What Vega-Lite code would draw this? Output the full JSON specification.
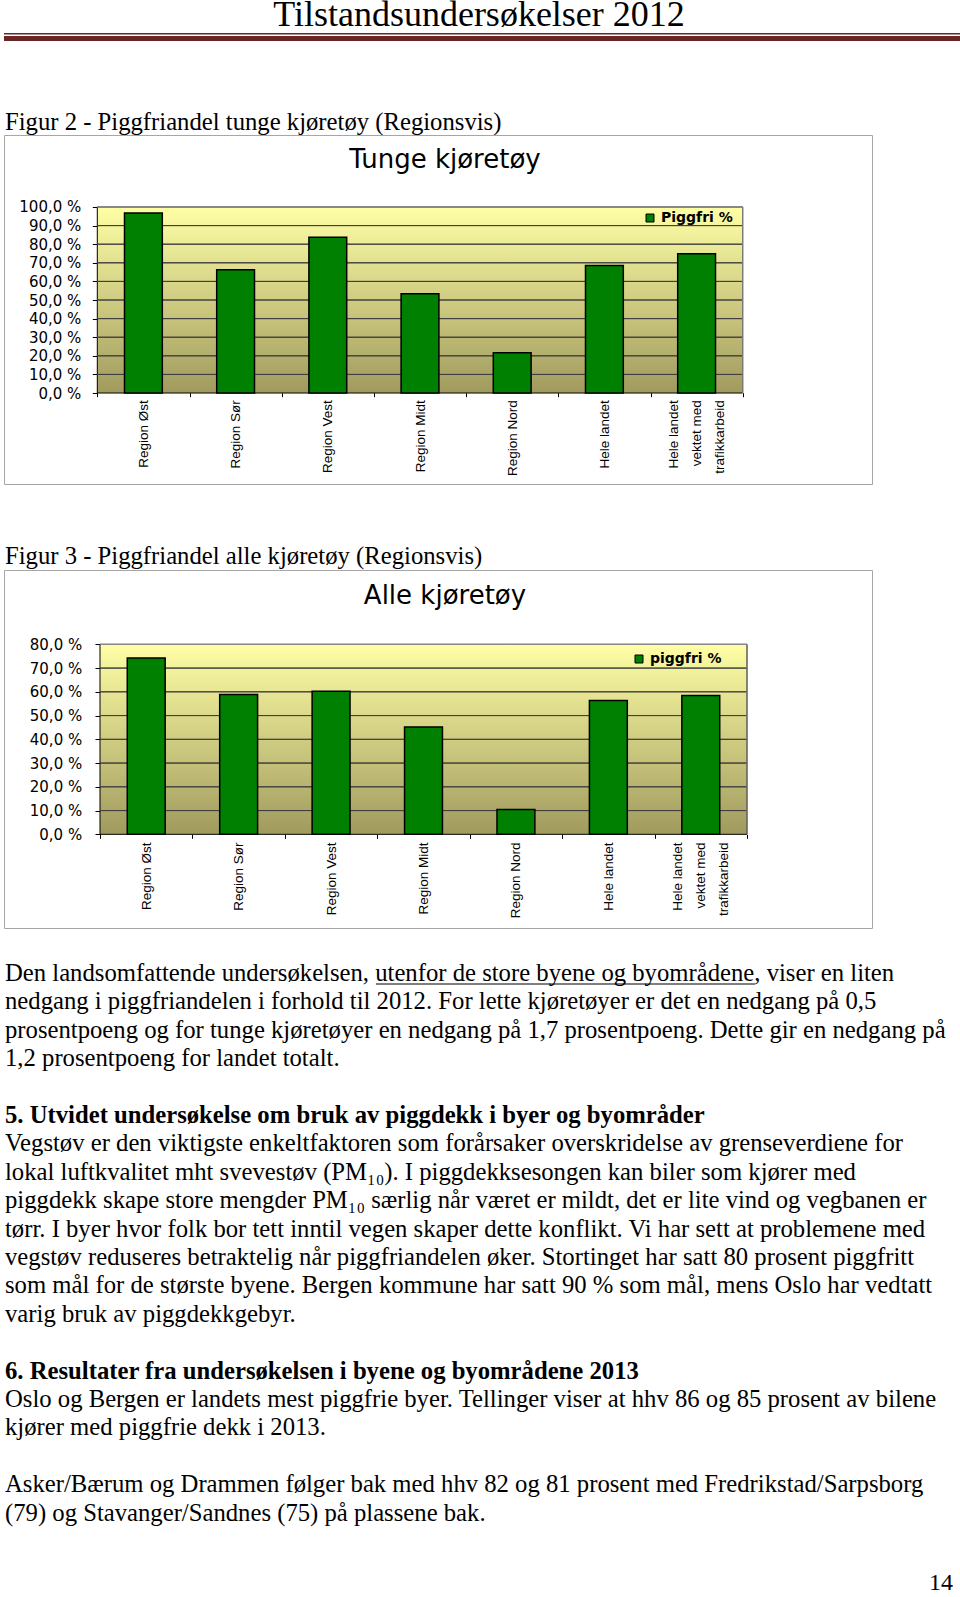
{
  "$schema": "https://vega.github.io/schema/vega-lite/v6.json",
  "background": "white",
  "padding": {"left": -4, "top": -3, "right": 0, "bottom": 0},
  "spacing": 0,
  "bounds": "flush",
  "config": {"view": {"stroke": null}, "font": "Liberation Sans"},
  "resolve": {"scale": {"x": "independent", "y": "independent", "color": "independent"}},
  "datasets": {
    "tunge": [
      {"region": "Region Øst", "piggfri": 96.8},
      {"region": "Region Sør", "piggfri": 66.3},
      {"region": "Region Vest", "piggfri": 83.7},
      {"region": "Region Midt", "piggfri": 53.4},
      {"region": "Region Nord", "piggfri": 21.7},
      {"region": "Hele landet", "piggfri": 68.6},
      {"region": "Hele landet vektet med trafikkarbeid", "piggfri": 74.9}
    ],
    "alle": [
      {"region": "Region Øst", "piggfri": 74.2},
      {"region": "Region Sør", "piggfri": 58.9},
      {"region": "Region Vest", "piggfri": 60.2},
      {"region": "Region Midt", "piggfri": 45.2},
      {"region": "Region Nord", "piggfri": 10.5},
      {"region": "Hele landet", "piggfri": 56.3},
      {"region": "Hele landet vektet med trafikkarbeid", "piggfri": 58.5}
    ],
    "body": [
      {"line": 0, "kind": "p", "text": "Den landsomfattende undersøkelsen, utenfor de store byene og byområdene, viser en liten"},
      {"line": 1, "kind": "p", "text": "nedgang i piggfriandelen i forhold til 2012. For lette kjøretøyer er det en nedgang på 0,5"},
      {"line": 2, "kind": "p", "text": "prosentpoeng og for tunge kjøretøyer en nedgang på 1,7 prosentpoeng. Dette gir en nedgang på"},
      {"line": 3, "kind": "p", "text": "1,2 prosentpoeng for landet totalt."},
      {"line": 5, "kind": "h", "text": "5. Utvidet undersøkelse om bruk av piggdekk i byer og byområder"},
      {"line": 6, "kind": "p", "text": "Vegstøv er den viktigste enkeltfaktoren som forårsaker overskridelse av grenseverdiene for"},
      {"line": 7, "kind": "p", "text": "lokal luftkvalitet mht svevestøv (PM₁₀). I piggdekksesongen kan biler som kjører med"},
      {"line": 8, "kind": "p", "text": "piggdekk skape store mengder PM₁₀ særlig når været er mildt, det er lite vind og vegbanen er"},
      {"line": 9, "kind": "p", "text": "tørr. I byer hvor folk bor tett inntil vegen skaper dette konflikt. Vi har sett at problemene med"},
      {"line": 10, "kind": "p", "text": "vegstøv reduseres betraktelig når piggfriandelen øker. Stortinget har satt 80 prosent piggfritt"},
      {"line": 11, "kind": "p", "text": "som mål for de største byene. Bergen kommune har satt 90 % som mål, mens Oslo har vedtatt"},
      {"line": 12, "kind": "p", "text": "varig bruk av piggdekkgebyr."},
      {"line": 14, "kind": "h", "text": "6. Resultater fra undersøkelsen i byene og byområdene 2013"},
      {"line": 15, "kind": "p", "text": "Oslo og Bergen er landets mest piggfrie byer. Tellinger viser at hhv 86 og 85 prosent av bilene"},
      {"line": 16, "kind": "p", "text": "kjører med piggfrie dekk i 2013."},
      {"line": 18, "kind": "p", "text": "Asker/Bærum og Drammen følger bak med hhv 82 og 81 prosent med Fredrikstad/Sarpsborg"},
      {"line": 19, "kind": "p", "text": "(79) og Stavanger/Sandnes (75) på plassene bak."}
    ]
  },
  "vconcat": [
    {
      "width": 956, "height": 135,
      "data": {"values": [{}]},
      "layer": [
        {
          "mark": {"type": "text", "text": "Tilstandsundersøkelser 2012", "font": "Liberation Serif", "fontSize": 36, "baseline": "line-top", "lineHeight": 31, "align": "center", "dx": -3, "color": "black"},
          "encoding": {"y": {"datum": 0, "type": "quantitative", "scale": {"domain": [1, 0], "nice": false, "zero": false}, "axis": null}}
        },
        {
          "mark": {"type": "bar", "color": "#6b2526"},
          "encoding": {
            "x": {"datum": 0, "type": "quantitative", "scale": {"domain": [0, 1], "nice": false, "zero": false}, "axis": null},
            "x2": {"datum": 1},
            "y": {"datum": 0.2444, "type": "quantitative", "axis": null},
            "y2": {"datum": 0.2556}
          }
        },
        {
          "mark": {"type": "bar", "color": "#6b2526"},
          "encoding": {
            "x": {"datum": 0, "type": "quantitative", "axis": null},
            "x2": {"datum": 1},
            "y": {"datum": 0.2667, "type": "quantitative", "axis": null},
            "y2": {"datum": 0.3037}
          }
        },
        {
          "mark": {"type": "text", "text": "Figur 2 - Piggfriandel tunge kjøretøy (Regionsvis)", "font": "Liberation Serif", "fontSize": 24.7, "baseline": "alphabetic", "align": "left", "dx": 1, "color": "black"},
          "encoding": {
            "x": {"datum": 0, "type": "quantitative", "axis": null},
            "y": {"datum": 0.963, "type": "quantitative", "axis": null}
          }
        }
      ]
    },
    {
      "width": 868, "height": 349,
      "view": {"stroke": "#a6a6a6", "strokeWidth": 1, "fill": "white"},
      "data": {"name": "tunge"},
      "resolve": {"axis": {"x": "independent", "y": "independent"}},
      "layer": [
        {
          "data": {"values": [{}]},
          "mark": {"type": "bar", "width": {"band": 7}, "stroke": "black", "strokeWidth": 1,
            "fill": {"gradient": "linear", "x1": 0, "y1": 0, "x2": 0, "y2": 1, "stops": [{"offset": 0, "color": "#ffffa6"}, {"offset": 1, "color": "#a09a5e"}]}},
          "encoding": {
            "x": {"datum": "Region Midt", "type": "nominal", "axis": null},
            "y": {"datum": 0, "type": "quantitative", "axis": null},
            "y2": {"datum": 100}
          }
        },
        {
          "data": {"values": [{"g": 10}, {"g": 20}, {"g": 30}, {"g": 40}, {"g": 50}, {"g": 60}, {"g": 70}, {"g": 80}, {"g": 90}]},
          "mark": {"type": "bar", "width": {"band": 7}, "fillOpacity": 0, "stroke": "#404040", "strokeWidth": 1},
          "encoding": {
            "x": {"datum": "Region Midt", "type": "nominal", "axis": null},
            "y": {"field": "g", "type": "quantitative", "axis": null},
            "y2": {"field": "g"}
          }
        },
        {
          "data": {"values": [{"g": 100}]},
          "mark": {"type": "bar", "width": {"band": 7}, "fillOpacity": 0, "stroke": "#8c8c8c", "strokeWidth": 1},
          "encoding": {
            "x": {"datum": "Region Midt", "type": "nominal", "axis": null},
            "y": {"field": "g", "type": "quantitative", "axis": null},
            "y2": {"field": "g"}
          }
        },
        {
          "data": {"values": [{}]},
          "mark": {"type": "rule", "color": "#8c8c8c", "strokeWidth": 1},
          "encoding": {
            "x": {"datum": "Hele landet vektet med trafikkarbeid", "type": "nominal", "bandPosition": 1, "axis": null},
            "y": {"datum": 0, "type": "quantitative", "axis": null},
            "y2": {"datum": 100}
          }
        },
        {
          "mark": {"type": "bar", "width": {"band": 0.41}, "stroke": "black", "strokeWidth": 1.5},
          "encoding": {
            "x": {"field": "region", "type": "nominal", "sort": null,
              "scale": {"domain": ["Region Øst", "Region Sør", "Region Vest", "Region Midt", "Region Nord", "Hele landet", "Hele landet vektet med trafikkarbeid"], "range": [93.3, 738.7], "paddingInner": 0, "paddingOuter": 0},
              "axis": {"orient": "bottom", "offset": -91.3, "domain": false, "grid": false, "tickBand": "extent", "ticks": true, "tickSize": 4, "tickColor": "black", "tickWidth": 1,
                "labelAngle": -90, "labelPadding": 3, "labelFont": "Liberation Sans", "labelFontSize": 13.5, "labelColor": "black", "labelLineHeight": 23,
                "labelOffset": {"condition": {"test": "datum.value == 'Hele landet vektet med trafikkarbeid'", "value": -23}, "value": 0},
                "labelExpr": "datum.label == 'Hele landet vektet med trafikkarbeid' ? ['Hele landet', 'vektet med', 'trafikkarbeid'] : datum.label", "title": null}},
            "y": {"field": "piggfri", "type": "quantitative",
              "scale": {"domain": [-48.9, 138.7], "nice": false, "zero": false},
              "axis": {"orient": "left", "offset": -93.3, "values": [0, 10, 20, 30, 40, 50, 60, 70, 80, 90, 100], "domain": false, "grid": false, "ticks": true, "tickSize": 5, "tickColor": "black",
                "labelPadding": 11.5, "labelFont": "DejaVu Sans", "labelFontSize": 15, "labelColor": "black",
                "labelExpr": "replace(format(datum.value, '.1f'), '.', ',') + ' %'", "title": null}},
            "color": {"datum": "Piggfri %", "type": "nominal", "scale": {"range": ["#008000"]},
              "legend": {"orient": "none", "legendX": 639, "legendY": 76, "title": null, "padding": 0, "symbolType": "square", "symbolSize": 64, "symbolStrokeColor": "black", "symbolStrokeWidth": 1,
                "labelFont": "DejaVu Sans", "labelFontWeight": "bold", "labelFontSize": 14, "labelColor": "black", "labelOffset": 4}}
          }
        },
        {
          "data": {"values": [{}]},
          "mark": {"type": "text", "text": "Tunge kjøretøy", "font": "DejaVu Sans", "fontSize": 26, "baseline": "middle", "align": "center", "dx": 7, "color": "black"},
          "encoding": {"y": {"datum": 125.3, "type": "quantitative", "axis": null}}
        }
      ]
    },
    {
      "width": 956, "height": 86,
      "data": {"values": [{}]},
      "mark": {"type": "text", "text": "Figur 3 - Piggfriandel alle kjøretøy (Regionsvis)", "font": "Liberation Serif", "fontSize": 24.7, "baseline": "alphabetic", "align": "left", "dx": 1, "color": "black"},
      "encoding": {
        "x": {"datum": 0, "type": "quantitative", "scale": {"domain": [0, 1]}, "axis": null},
        "y": {"datum": 0.9302, "type": "quantitative", "scale": {"domain": [1, 0], "nice": false, "zero": false}, "axis": null}
      }
    },
    {
      "width": 868, "height": 358,
      "view": {"stroke": "#a6a6a6", "strokeWidth": 1, "fill": "white"},
      "data": {"name": "alle"},
      "resolve": {"axis": {"x": "independent", "y": "independent"}},
      "layer": [
        {
          "data": {"values": [{}]},
          "mark": {"type": "bar", "width": {"band": 7}, "stroke": "black", "strokeWidth": 1,
            "fill": {"gradient": "linear", "x1": 0, "y1": 0, "x2": 0, "y2": 1, "stops": [{"offset": 0, "color": "#ffffa6"}, {"offset": 1, "color": "#a09a5e"}]}},
          "encoding": {
            "x": {"datum": "Region Midt", "type": "nominal", "axis": null},
            "y": {"datum": 0, "type": "quantitative", "axis": null},
            "y2": {"datum": 80}
          }
        },
        {
          "data": {"values": [{"g": 10}, {"g": 20}, {"g": 30}, {"g": 40}, {"g": 50}, {"g": 60}, {"g": 70}]},
          "mark": {"type": "bar", "width": {"band": 7}, "fillOpacity": 0, "stroke": "#404040", "strokeWidth": 1},
          "encoding": {
            "x": {"datum": "Region Midt", "type": "nominal", "axis": null},
            "y": {"field": "g", "type": "quantitative", "axis": null},
            "y2": {"field": "g"}
          }
        },
        {
          "data": {"values": [{"g": 80}]},
          "mark": {"type": "bar", "width": {"band": 7}, "fillOpacity": 0, "stroke": "#8c8c8c", "strokeWidth": 1},
          "encoding": {
            "x": {"datum": "Region Midt", "type": "nominal", "axis": null},
            "y": {"field": "g", "type": "quantitative", "axis": null},
            "y2": {"field": "g"}
          }
        },
        {
          "data": {"values": [{}]},
          "mark": {"type": "rule", "color": "#8c8c8c", "strokeWidth": 1},
          "encoding": {
            "x": {"datum": "Hele landet vektet med trafikkarbeid", "type": "nominal", "bandPosition": 1, "axis": null},
            "y": {"datum": 0, "type": "quantitative", "axis": null},
            "y2": {"datum": 80}
          }
        },
        {
          "mark": {"type": "bar", "width": {"band": 0.41}, "stroke": "black", "strokeWidth": 1.5},
          "encoding": {
            "x": {"field": "region", "type": "nominal", "sort": null,
              "scale": {"domain": ["Region Øst", "Region Sør", "Region Vest", "Region Midt", "Region Nord", "Hele landet", "Hele landet vektet med trafikkarbeid"], "range": [96, 743], "paddingInner": 0, "paddingOuter": 0},
              "axis": {"orient": "bottom", "offset": -93.7, "domain": false, "grid": false, "tickBand": "extent", "ticks": true, "tickSize": 4, "tickColor": "black", "tickWidth": 1,
                "labelAngle": -90, "labelPadding": 3.7, "labelFont": "Liberation Sans", "labelFontSize": 13.5, "labelColor": "black", "labelLineHeight": 23,
                "labelOffset": {"condition": {"test": "datum.value == 'Hele landet vektet med trafikkarbeid'", "value": -23}, "value": 0},
                "labelExpr": "datum.label == 'Hele landet vektet med trafikkarbeid' ? ['Hele landet', 'vektet med', 'trafikkarbeid'] : datum.label", "title": null}},
            "y": {"field": "piggfri", "type": "quantitative",
              "scale": {"domain": [-39.45, 111.3], "nice": false, "zero": false},
              "axis": {"orient": "left", "offset": -96, "values": [0, 10, 20, 30, 40, 50, 60, 70, 80], "domain": false, "grid": false, "ticks": true, "tickSize": 5, "tickColor": "black",
                "labelPadding": 13.3, "labelFont": "DejaVu Sans", "labelFontSize": 15, "labelColor": "black",
                "labelExpr": "replace(format(datum.value, '.1f'), '.', ',') + ' %'", "title": null}},
            "color": {"datum": "piggfri %", "type": "nominal", "scale": {"range": ["#008000"]},
              "legend": {"orient": "none", "legendX": 628, "legendY": 82, "title": null, "padding": 0, "symbolType": "square", "symbolSize": 64, "symbolStrokeColor": "black", "symbolStrokeWidth": 1,
                "labelFont": "DejaVu Sans", "labelFontWeight": "bold", "labelFontSize": 14, "labelColor": "black", "labelOffset": 4}}
          }
        },
        {
          "data": {"values": [{}]},
          "mark": {"type": "text", "text": "Alle kjøretøy", "font": "DejaVu Sans", "fontSize": 26, "baseline": "middle", "align": "center", "dx": 7, "color": "black"},
          "encoding": {"y": {"datum": 100.35, "type": "quantitative", "axis": null}}
        }
      ]
    },
    {
      "width": 956, "height": 669,
      "data": {"name": "body"},
      "layer": [
        {
          "transform": [{"filter": "datum.kind == 'p'"}],
          "mark": {"type": "text", "align": "left", "baseline": "alphabetic", "font": "Liberation Serif", "fontSize": 24.7, "dx": 1, "color": "black"},
          "encoding": {
            "x": {"datum": 0, "type": "quantitative", "scale": {"domain": [0, 1]}, "axis": null},
            "y": {"field": "line", "type": "quantitative", "scale": {"domain": [-1.866, 21.69], "reverse": true, "nice": false, "zero": false}, "axis": null},
            "text": {"field": "text"}
          }
        },
        {
          "transform": [{"filter": "datum.kind == 'h'"}],
          "mark": {"type": "text", "align": "left", "baseline": "alphabetic", "font": "Liberation Serif", "fontSize": 24.7, "fontWeight": "bold", "dx": 1, "color": "black"},
          "encoding": {
            "x": {"datum": 0, "type": "quantitative", "axis": null},
            "y": {"field": "line", "type": "quantitative", "axis": null},
            "text": {"field": "text"}
          }
        },
        {
          "data": {"values": [{}]},
          "mark": {"type": "rule", "color": "black", "strokeWidth": 1.2},
          "encoding": {
            "x": {"datum": 0.389, "type": "quantitative", "axis": null},
            "x2": {"datum": 0.7856},
            "y": {"datum": 0.106, "type": "quantitative", "axis": null}
          }
        },
        {
          "data": {"values": [{"page": "14"}]},
          "mark": {"type": "text", "align": "right", "baseline": "alphabetic", "font": "Liberation Serif", "fontSize": 24, "dx": -7, "color": "black"},
          "encoding": {
            "x": {"datum": 1, "type": "quantitative", "axis": null},
            "y": {"datum": 21.44, "type": "quantitative", "axis": null},
            "text": {"field": "page"}
          }
        }
      ]
    }
  ]
}
